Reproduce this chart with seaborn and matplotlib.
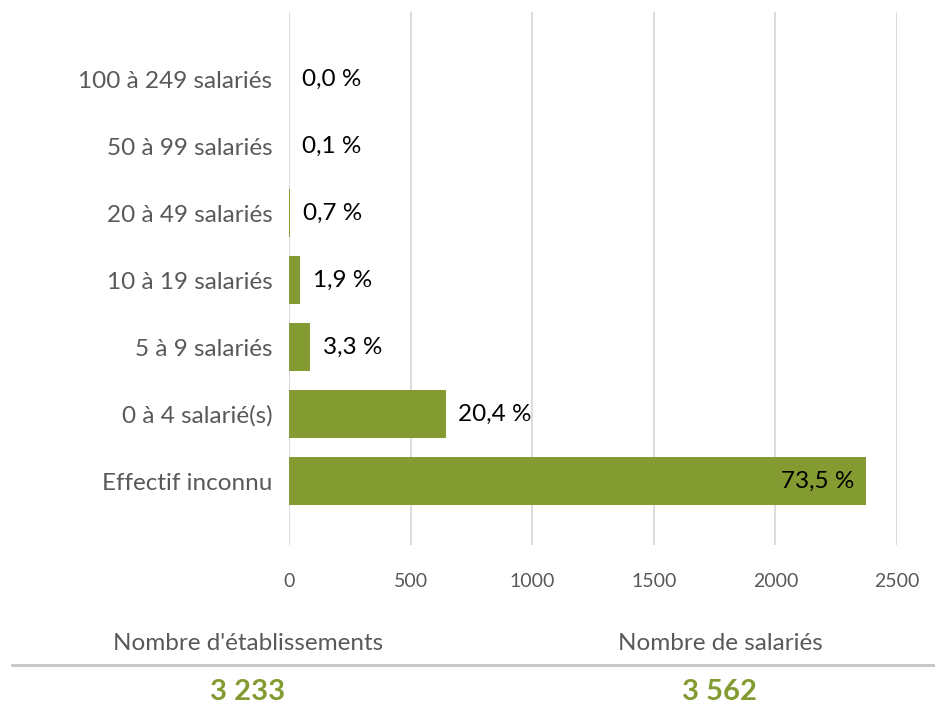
import matplotlib
matplotlib.use("Agg")
import matplotlib.pyplot as plt
import seaborn as sns
import pandas as pd

# Données
categories = ['100 à 249 salariés', '50 à 99 salariés', '20 à 49 salariés',
              '10 à 19 salariés', '5 à 9 salariés', '0 à 4 salarié(s)', 'Effectif inconnu']
etablissements = [1, 2, 6, 46, 88, 645, 2371]
pourcentages = ['0,0 %', '0,1 %', '0,7 %', '1,9 %', '3,3 %', '20,4 %', '73,5 %']
xticks = [0, 500, 1000, 1500, 2000, 2500]
total_etab = '3 233'
total_sal = '3 562'

vert = '#839B31'
gris = '#595959'

sns.set_theme(style='white')
plt.rcParams['font.family'] = ['Lato', 'DejaVu Sans']

df = pd.DataFrame({'cat': categories, 'n': etablissements})

fig = plt.figure(figsize=(9.35, 7.05), dpi=100)
ax = fig.add_axes([289 / 935, 1 - 545 / 705, (897 - 289) / 935, (545 - 12) / 705])

sns.barplot(data=df, y='cat', x='n', color=vert, width=0.72, ax=ax,
            saturation=1, linewidth=0)

ax.set_xlim(0, 2500)
ax.set_ylim(6.95, -1.0)
ax.set_xticks(xticks)
ax.xaxis.grid(True, color='#D9D9D9', linewidth=1.3)
ax.set_axisbelow(True)
for s in ax.spines.values():
    s.set_visible(False)
ax.set_xlabel('')
ax.set_ylabel('')
ax.tick_params(axis='x', colors=gris, labelsize=14, length=0, pad=20)
ax.tick_params(axis='y', colors=gris, labelsize=17.5, length=0, pad=12)

# étiquettes de données
for i, (v, lab) in enumerate(zip(etablissements, pourcentages)):
    if v > 1500:
        ax.annotate(lab, (v, i), xytext=(-8, 0), textcoords='offset points',
                    ha='right', va='center', fontsize=17.5, color='black')
    else:
        ax.annotate(lab, (v, i), xytext=(9, 0), textcoords='offset points',
                    ha='left', va='center', fontsize=17.5, color='black')

# bas de la figure
fig.text(248 / 935, 1 - 644 / 705, "Nombre d'établissements", ha='center', va='center',
         fontsize=17.5, color=gris)
fig.text(720 / 935, 1 - 644 / 705, 'Nombre de salariés', ha='center', va='center',
         fontsize=17.5, color=gris)
fig.add_artist(plt.Line2D([12 / 935, 1], [1 - 665 / 705, 1 - 665 / 705],
                          color='#C8C8C8', linewidth=2.2))
fig.text(248 / 935, 1 - 692 / 705, total_etab, ha='center', va='center',
         fontsize=21, fontweight='bold', color=vert)
fig.text(720 / 935, 1 - 692 / 705, total_sal, ha='center', va='center',
         fontsize=21, fontweight='bold', color=vert)

fig.savefig('out.png', dpi=100)
